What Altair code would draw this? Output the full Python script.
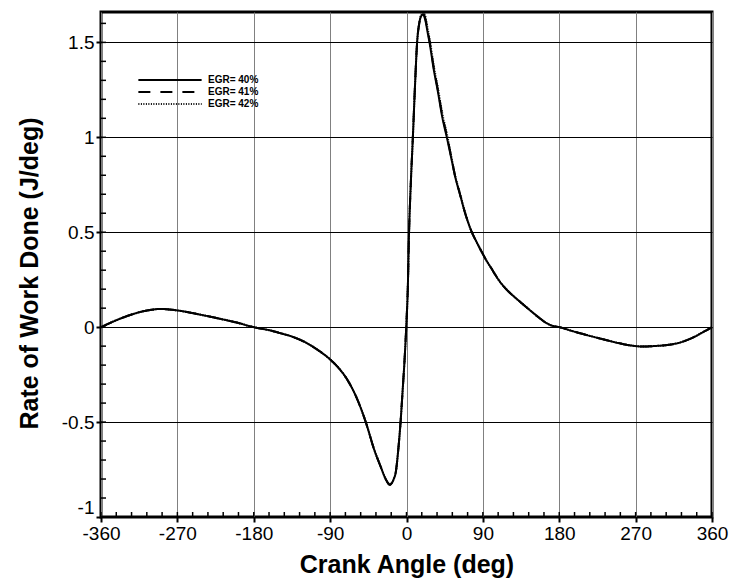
import altair as alt
import pandas as pd

# ---- data ----
angle = [-360, -340, -320, -300, -290, -270, -240, -225, -200, -180,
         -160, -150, -136, -120, -108, -90, -80, -70, -58, -48,
         -38, -30, -26, -22, -20, -18, -15, -12.5, -10, -7,
         -4.5, -2, 0, 1.5, 3, 5, 7.5, 10, 12.5, 15,
         17.5, 19.5, 22, 25, 27.5, 32, 37, 42, 48, 53,
         57.5, 63, 68, 72, 77, 83, 90, 95, 100, 105,
         110, 116, 122, 128, 133, 141, 149, 157, 165, 172,
         180, 195, 211, 230, 250, 265, 278, 290, 309, 323,
         336, 348, 360]

egr40 = [0.0, 0.04, 0.072, 0.092, 0.096, 0.088, 0.063, 0.049, 0.024, 0.0,
         -0.018, -0.03, -0.048, -0.078, -0.11, -0.17, -0.215, -0.275, -0.38, -0.5,
         -0.646, -0.74, -0.786, -0.82, -0.83, -0.825, -0.80, -0.76, -0.66, -0.5,
         -0.33, -0.15, 0.03, 0.2, 0.5, 0.75, 1.0, 1.27, 1.5, 1.6,
         1.64, 1.648, 1.62, 1.55, 1.49, 1.36, 1.24, 1.11, 0.99, 0.885,
         0.79, 0.70, 0.617, 0.56, 0.5, 0.445, 0.385, 0.345, 0.31, 0.273,
         0.24, 0.207, 0.18, 0.156, 0.137, 0.106, 0.076, 0.047, 0.021, 0.007,
         0.0, -0.02, -0.04, -0.062, -0.084, -0.097, -0.102, -0.1, -0.093, -0.08,
         -0.058, -0.03, 0.0]

egr41 = [0.0, 0.04, 0.072, 0.092, 0.096, 0.088, 0.063, 0.049, 0.024, 0.0,
         -0.018, -0.03, -0.048, -0.078, -0.11, -0.17, -0.215, -0.275, -0.38, -0.5,
         -0.646, -0.74, -0.786, -0.82, -0.83, -0.825, -0.80, -0.76, -0.66, -0.5,
         -0.33, -0.15, 0.03, 0.2, 0.5, 0.75, 1.0, 1.27, 1.5, 1.6,
         1.645, 1.652, 1.63, 1.56, 1.5, 1.37, 1.25, 1.12, 1.0, 0.89,
         0.79, 0.70, 0.617, 0.56, 0.5, 0.445, 0.385, 0.345, 0.31, 0.273,
         0.24, 0.207, 0.18, 0.156, 0.137, 0.106, 0.076, 0.047, 0.021, 0.007,
         0.0, -0.02, -0.04, -0.062, -0.084, -0.097, -0.102, -0.1, -0.093, -0.08,
         -0.058, -0.03, 0.0]

egr42 = [0.0, 0.04, 0.072, 0.092, 0.096, 0.088, 0.063, 0.049, 0.024, 0.0,
         -0.018, -0.03, -0.048, -0.078, -0.11, -0.17, -0.215, -0.275, -0.38, -0.5,
         -0.646, -0.74, -0.786, -0.82, -0.83, -0.825, -0.80, -0.76, -0.66, -0.5,
         -0.33, -0.15, 0.03, 0.2, 0.5, 0.75, 1.0, 1.27, 1.5, 1.6,
         1.648, 1.656, 1.64, 1.57, 1.51, 1.38, 1.26, 1.13, 1.01, 0.895,
         0.795, 0.705, 0.62, 0.56, 0.5, 0.445, 0.385, 0.345, 0.31, 0.273,
         0.24, 0.207, 0.18, 0.156, 0.137, 0.106, 0.076, 0.047, 0.021, 0.007,
         0.0, -0.02, -0.04, -0.062, -0.084, -0.097, -0.102, -0.1, -0.093, -0.08,
         -0.058, -0.03, 0.0]

series_labels = ["EGR= 40%", "EGR= 41%", "EGR= 42%"]

x_major = [-360, -270, -180, -90, 0, 90, 180, 270, 360]
x_minor = list(range(-360, 361, 18))
y_major = [-1, -0.5, 0, 0.5, 1, 1.5]
y_minor = [round(-1 + 0.1 * i, 1) for i in range(27)]

rows = []
for lab, vals in zip(series_labels, [egr40, egr41, egr42]):
    for a, v in zip(angle, vals):
        rows.append({"angle": a, "rate": v, "series": lab})
df = pd.DataFrame(rows)
xt = pd.DataFrame({"angle": x_minor})
yt = pd.DataFrame({"rate": y_minor})

W, H = 611, 505
FONT = "Liberation Sans"
xs = alt.Scale(domain=[-360, 360], nice=False, zero=False)
ys = alt.Scale(domain=[-1, 1.66], nice=False, zero=False)

x_axis = alt.Axis(
    values=x_major, title="Crank Angle (deg)", grid=True, gridColor="#808080",
    gridWidth=1, domain=False, tickColor="black", tickSize=5, tickWidth=2,
    labelFont=FONT, labelFontSize=19, labelColor="black", labelPadding=2,
    labelExpr="datum.value + ''", labelOverlap=False, labelFlush=False,
    labelBound=False, titleFont=FONT, titleFontSize=25, titleFontWeight="bold",
    titleColor="black", titleBaseline="alphabetic", titleY=55,
)
y_axis = alt.Axis(
    values=y_major, title="Rate of Work Done (J/deg)", grid=True, gridColor="black",
    gridWidth=1, domain=False, tickColor="black", tickSize=5, tickWidth=2,
    labelFont=FONT, labelFontSize=19, labelColor="black", labelPadding=2,
    labelExpr="datum.value + ''", labelOverlap=False, labelFlush=True,
    labelBound=False, titleFont=FONT, titleFontSize=25, titleFontWeight="bold",
    titleColor="black", titleBaseline="alphabetic", titleX=-64, titleY=261,
)

lines = alt.Chart(df).mark_line(color="black", strokeWidth=2, interpolate="monotone").encode(
    x=alt.X("angle:Q", scale=xs, axis=x_axis),
    y=alt.Y("rate:Q", scale=ys, axis=y_axis),
    strokeDash=alt.StrokeDash(
        "series:N",
        scale=alt.Scale(domain=series_labels, range=[[1, 0], [12, 10], [1, 1.5]]),
        legend=alt.Legend(
            title=None, orient="none", legendX=36, legendY=62, padding=0,
            symbolType="stroke", symbolSize=4000, symbolStrokeWidth=2,
            symbolStrokeColor="black", clipHeight=12, rowPadding=0,
            labelFont=FONT, labelFontSize=10, labelFontWeight="bold",
            labelColor="black", labelOffset=5,
        ),
    ),
    detail="series:N",
)

# inward minor ticks along the bottom and left frame
x_ticks = alt.Chart(xt).mark_rule(color="black", strokeWidth=1.5).encode(
    x=alt.X("angle:Q", scale=xs, axis=x_axis),
    y=alt.value(H), y2=alt.value(H - 5),
)
y_ticks = alt.Chart(yt).mark_rule(color="black", strokeWidth=1.5).encode(
    y=alt.Y("rate:Q", scale=ys, axis=y_axis),
    x=alt.value(0), x2=alt.value(5),
)

chart = alt.layer(lines, x_ticks, y_ticks).properties(
    width=W, height=H,
    padding={"left": 101, "top": 12, "right": 23, "bottom": 65},
    autosize=alt.AutoSizeParams(type="none"),
    background="white",
).configure_view(stroke="black", strokeWidth=3)

chart.save("out.html", embed_options={"renderer": "svg", "actions": False})
